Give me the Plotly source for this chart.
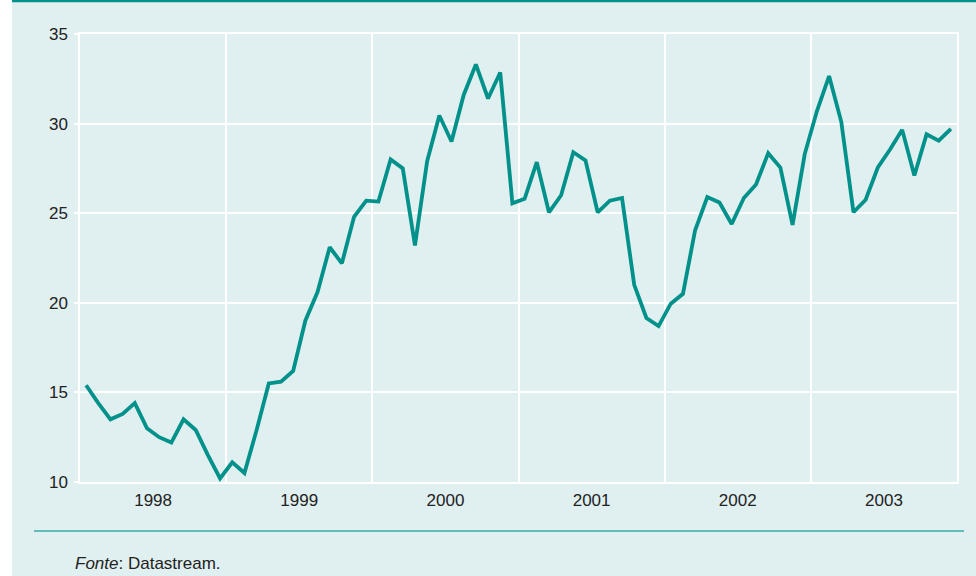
import plotly.graph_objects as go

# Monthly values, Jan 1998 - Dec 2003
values_1998 = [15.4, 14.4, 13.5, 13.8, 14.4, 13.0, 12.5, 12.2, 13.5, 12.9, 11.5, 10.2]
values_1999 = [11.1, 10.5, 12.9, 15.5, 15.6, 16.2, 19.0, 20.6, 23.1, 22.2, 24.8, 25.7]
values_2000 = [25.65, 28.0, 27.5, 23.2, 27.9, 30.45, 29.0, 31.6, 33.3, 31.4, 32.85, 25.55]
values_2001 = [25.8, 27.85, 25.05, 26.0, 28.4, 27.95, 25.05, 25.7, 25.85, 21.0, 19.15, 18.7]
values_2002 = [19.95, 20.5, 24.05, 25.9, 25.6, 24.4, 25.85, 26.6, 28.35, 27.55, 24.35, 28.3]
values_2003 = [30.7, 32.65, 30.1, 25.05, 25.75, 27.55, 28.55, 29.65, 27.1, 29.4, 29.05, 29.7]

years = ["1998", "1999", "2000", "2001", "2002", "2003"]
y_ticks = [10, 15, 20, 25, 30, 35]

values = values_1998 + values_1999 + values_2000 + values_2001 + values_2002 + values_2003
months = [i + 0.5 for i in range(len(values))]
year_centers = [12 * k + 6 for k in range(len(years))]

teal = "#00918b"
bg = "#e0eff0"
font_family = "Liberation Sans, Arial, Helvetica, sans-serif"

fig = go.Figure()
fig.add_trace(go.Scatter(
    x=months, y=values, mode="lines",
    line=dict(color=teal, width=3.8),
    hoverinfo="skip", showlegend=False,
))

W, H = 976, 576
L, R, T, B = 80, 19, 34, 94
pw, ph = W - L - R, H - T - B

def px_x(px):
    return (px - L) / pw

def px_y(py):
    return (H - B - py) / ph

shapes = [
    # white strip on the far left
    dict(type="rect", xref="paper", yref="paper",
         x0=px_x(-5), x1=px_x(12), y0=px_y(590), y1=px_y(-10),
         fillcolor="white", line=dict(width=0), layer="above"),
    # top teal rule
    dict(type="line", xref="paper", yref="paper",
         x0=px_x(12), x1=px_x(980), y0=px_y(1), y1=px_y(1),
         line=dict(color=teal, width=2.5)),
    # bottom separator rule
    dict(type="line", xref="paper", yref="paper",
         x0=px_x(34), x1=px_x(964), y0=px_y(531), y1=px_y(531),
         line=dict(color="#3aabaa", width=1.5)),
]

fig.update_layout(
    width=W, height=H,
    margin=dict(l=L, r=R, t=T, b=B),
    paper_bgcolor=bg, plot_bgcolor=bg,
    font=dict(family=font_family, size=17, color="#222222"),
    shapes=shapes,
    xaxis=dict(
        range=[0, 72],
        tickmode="array", tickvals=year_centers, ticktext=years,
        showgrid=False, ticks="", zeroline=False,
        showline=True, linecolor="white", linewidth=1.5, mirror=True,
        minor=dict(tick0=0, dtick=12, showgrid=True, gridcolor="white", gridwidth=1.5, ticks=""),
        ticklabelstandoff=2,
        fixedrange=True,
    ),
    yaxis=dict(
        range=[10, 35],
        tickmode="array", tickvals=y_ticks,
        showgrid=True, gridcolor="white", gridwidth=1.5,
        ticks="outside", ticklen=4, tickcolor="white", tickwidth=1.5,
        zeroline=False,
        showline=True, linecolor="white", linewidth=1.5, mirror=True,
        ticklabelstandoff=3,
        fixedrange=True,
    ),
    annotations=[
        dict(xref="paper", yref="paper", x=px_x(73), y=px_y(563),
             xanchor="left", yanchor="middle", showarrow=False,
             text="<i>Fonte</i>: Datastream.",
             font=dict(family=font_family, size=17, color="#222222")),
    ],
)

fig.write_html(
    "out.html",
    config={"displayModeBar": False},
    post_script="document.body.style.margin='0';document.body.style.overflow='hidden';",
)
